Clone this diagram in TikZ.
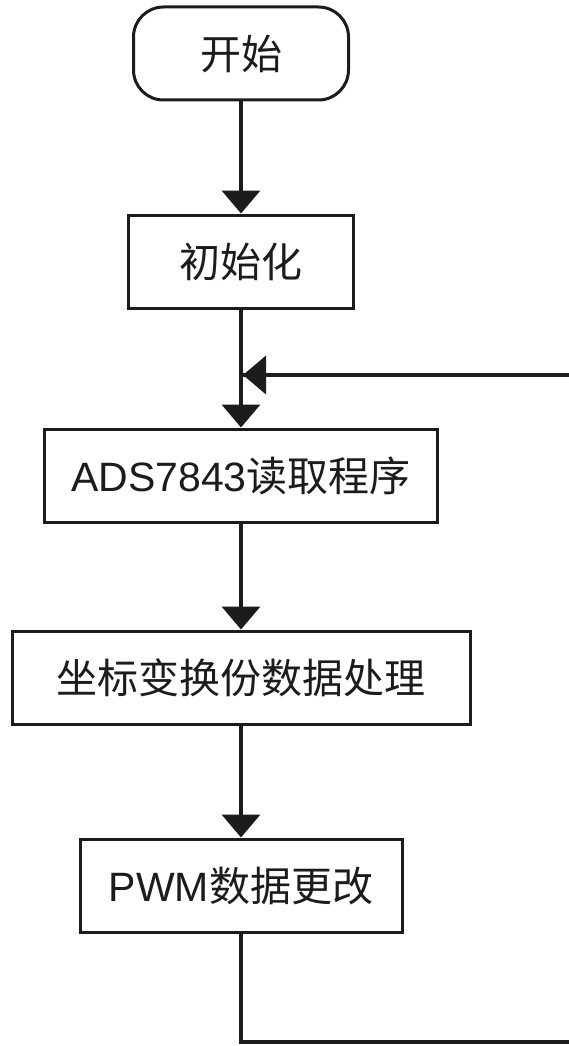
\documentclass[tikz,border=0pt]{standalone}
\usepackage{fontspec}
\setmainfont{Liberation Sans}
\newfontfamily\cjk{Noto Sans CJK SC}
\usetikzlibrary{arrows.meta}
\definecolor{ink}{HTML}{1C1C1C}
\tikzset{
  box/.style={draw=ink, line width=3pt, minimum height=93pt, inner sep=0pt,
    text=ink, font=\fontsize{41}{48}\selectfont, fill=white},
  startbox/.style={box, rounded corners=30pt},
  flow/.style={draw=ink, line width=4pt, -{Triangle[width=38pt,length=23pt]}},
  loopline/.style={draw=ink, line width=4pt},
}
\begin{document}
\begin{tikzpicture}[x=1pt,y=-1pt]
\useasboundingbox (0,0) rectangle (569,1046);
\node[startbox, minimum width=215pt] (start) at (241,53.5) {\cjk 开始};
\node[box, minimum width=225pt] (init) at (241,261.5) {\cjk 初始化};
\node[box, minimum width=393pt] (ads) at (241,475.5) {ADS7843{\cjk 读取程序}};
\node[box, minimum width=458pt] (coord) at (241,677.5) {\cjk 坐标变换份数据处理};
\node[box, minimum width=322pt] (pwm) at (241,885.5) {PWM{\cjk 数据更改}};
\coordinate (c1) at (241,1042);
\coordinate (c2) at (580,1042);
\coordinate (c3) at (580,375);
\coordinate (fb) at (243,375);
\draw[flow] (start) -- (init);
\draw[flow] (init) -- (ads);
\draw[flow] (ads) -- (coord);
\draw[flow] (coord) -- (pwm);
\draw[loopline] (pwm.south) -- (c1) -- (c2) -- (c3) -- (fb);
\draw[flow] (c3) -- (fb);
\end{tikzpicture}
\end{document}
